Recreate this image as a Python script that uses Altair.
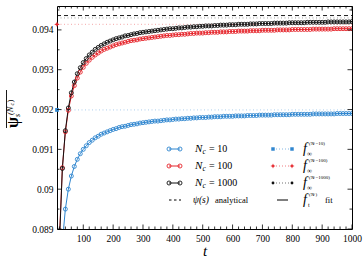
import altair as alt
import pandas as pd

# ---------------- data ----------------
t = list(range(10, 1010, 10))

psi_10 = [0.08200, 0.08700, 0.08867, 0.08950, 0.09000, 0.09033, 0.09057, 0.09075, 0.09089, 0.09100,
          0.09109, 0.09117, 0.09123, 0.09129, 0.09133, 0.09138, 0.09141, 0.09144, 0.09147, 0.09150,
          0.09152, 0.09155, 0.09157, 0.09158, 0.09160, 0.09162, 0.09163, 0.09164, 0.09166, 0.09167,
          0.09168, 0.09169, 0.09170, 0.09171, 0.09171, 0.09172, 0.09173, 0.09174, 0.09174, 0.09175,
          0.09176, 0.09176, 0.09177, 0.09177, 0.09178, 0.09178, 0.09179, 0.09179, 0.09180, 0.09180,
          0.09180, 0.09181, 0.09181, 0.09182, 0.09182, 0.09182, 0.09183, 0.09183, 0.09183, 0.09183,
          0.09184, 0.09184, 0.09184, 0.09184, 0.09185, 0.09185, 0.09185, 0.09185, 0.09186, 0.09186,
          0.09186, 0.09186, 0.09186, 0.09187, 0.09187, 0.09187, 0.09187, 0.09187, 0.09187, 0.09188,
          0.09188, 0.09188, 0.09188, 0.09188, 0.09188, 0.09188, 0.09189, 0.09189, 0.09189, 0.09189,
          0.09189, 0.09189, 0.09189, 0.09189, 0.09190, 0.09190, 0.09190, 0.09190, 0.09190, 0.09190]

psi_100 = [0.08334, 0.08874, 0.09054, 0.09144, 0.09198, 0.09234, 0.09260, 0.09279, 0.09294, 0.09306,
           0.09316, 0.09324, 0.09331, 0.09337, 0.09342, 0.09347, 0.09351, 0.09354, 0.09357, 0.09360,
           0.09363, 0.09365, 0.09367, 0.09369, 0.09371, 0.09373, 0.09374, 0.09375, 0.09377, 0.09378,
           0.09379, 0.09380, 0.09381, 0.09382, 0.09383, 0.09384, 0.09385, 0.09386, 0.09386, 0.09387,
           0.09388, 0.09388, 0.09389, 0.09389, 0.09390, 0.09391, 0.09391, 0.09392, 0.09392, 0.09392,
           0.09393, 0.09393, 0.09394, 0.09394, 0.09394, 0.09395, 0.09395, 0.09395, 0.09396, 0.09396,
           0.09396, 0.09397, 0.09397, 0.09397, 0.09397, 0.09398, 0.09398, 0.09398, 0.09398, 0.09399,
           0.09399, 0.09399, 0.09399, 0.09399, 0.09400, 0.09400, 0.09400, 0.09400, 0.09400, 0.09401,
           0.09401, 0.09401, 0.09401, 0.09401, 0.09401, 0.09401, 0.09402, 0.09402, 0.09402, 0.09402,
           0.09402, 0.09402, 0.09402, 0.09403, 0.09403, 0.09403, 0.09403, 0.09403, 0.09403, 0.09403]

psi_1000 = [0.08292, 0.08862, 0.09052, 0.09147, 0.09204, 0.09242, 0.09269, 0.09290, 0.09305, 0.09318,
            0.09328, 0.09337, 0.09344, 0.09351, 0.09356, 0.09361, 0.09365, 0.09369, 0.09372, 0.09375,
            0.09378, 0.09380, 0.09382, 0.09385, 0.09386, 0.09388, 0.09390, 0.09391, 0.09393, 0.09394,
            0.09395, 0.09396, 0.09397, 0.09398, 0.09399, 0.09400, 0.09401, 0.09402, 0.09403, 0.09403,
            0.09404, 0.09405, 0.09405, 0.09406, 0.09407, 0.09407, 0.09408, 0.09408, 0.09409, 0.09409,
            0.09410, 0.09410, 0.09410, 0.09411, 0.09411, 0.09412, 0.09412, 0.09412, 0.09413, 0.09413,
            0.09413, 0.09414, 0.09414, 0.09414, 0.09414, 0.09415, 0.09415, 0.09415, 0.09416, 0.09416,
            0.09416, 0.09416, 0.09416, 0.09417, 0.09417, 0.09417, 0.09417, 0.09417, 0.09418, 0.09418,
            0.09418, 0.09418, 0.09418, 0.09418, 0.09419, 0.09419, 0.09419, 0.09419, 0.09419, 0.09419,
            0.09419, 0.09420, 0.09420, 0.09420, 0.09420, 0.09420, 0.09420, 0.09420, 0.09420, 0.09421]

series_names = ["Nc=10", "Nc=100", "Nc=1000"]
f_inf = [0.09199, 0.09414, 0.09430]
psi_analytical = [0.09436]

x_ticks_major = [100, 200, 300, 400, 500, 600, 700, 800, 900, 1000]
x_ticks_minor = [v for v in range(20, 1001, 20) if v % 100 != 0]
y_ticks_major = [0.089, 0.090, 0.091, 0.092, 0.093, 0.094]
y_ticks_minor = [0.0895, 0.0905, 0.0915, 0.0925, 0.0935, 0.0945]

colors = ["#2f86cf", "#e5252b", "#111111"]

# ---------------- tables ----------------
rows = []
for name, vals in zip(series_names, [psi_10, psi_100, psi_1000]):
    for tt, v in zip(t, vals):
        rows.append({"t": tt, "psi": v, "series": name})
df = pd.DataFrame(rows)
finf_df = pd.DataFrame({"series": series_names, "v": f_inf})
ana_df = pd.DataFrame({"v": psi_analytical})
one = pd.DataFrame({"a": [0]})

W, H = 295, 223
SERIF = "Liberation Serif"
xs = alt.Scale(domain=[12, 1000], nice=False, zero=False)
ys = alt.Scale(domain=[0.089, 0.0946], nice=False, zero=False)
cs = alt.Scale(domain=series_names, range=colors)
ax_x = alt.Axis(values=x_ticks_major, format="d", title="t", titleFontStyle="italic", titleFontWeight="normal",
                titleFontSize=15, titleFont=SERIF, titlePadding=1, labelPadding=4, labelOverlap=False,
                labelFlush=False)
ax_y = alt.Axis(values=y_ticks_major, format="~g", title=None, labelPadding=4, labelOverlap=False,
                labelFlush=False)

def X(f):
    return alt.X(f, scale=xs, axis=ax_x)

def Y(f):
    return alt.Y(f, scale=ys, axis=ax_y)

base = alt.Chart(df)

lines = base.mark_line(strokeWidth=1, clip=True).encode(
    x=X("t:Q"), y=Y("psi:Q"), color=alt.Color("series:N", scale=cs, legend=None),
)
points = base.mark_point(shape="circle", filled=False, size=16, strokeWidth=0.9, opacity=1, clip=True).encode(
    x=X("t:Q"), y=Y("psi:Q"), color=alt.Color("series:N", scale=cs, legend=None),
)

finf_lines = alt.Chart(finf_df).mark_rule(strokeDash=[1, 2.5], strokeWidth=0.9, opacity=0.45).encode(
    y=Y("v:Q"), x=alt.value(0), x2=alt.value(W),
    color=alt.Color("series:N", scale=cs, legend=None),
)
ana_line = alt.Chart(ana_df).mark_rule(strokeDash=[4, 3], strokeWidth=0.9, color="black").encode(
    y=Y("v:Q"), x=alt.value(0), x2=alt.value(W),
)

star = "M0,-1L0.3,-0.3L1,0L0.3,0.3L0,1L-0.3,0.3L-1,0L-0.3,-0.3Z"
finf_blue_mark = alt.Chart(finf_df[finf_df.series == "Nc=10"]).mark_point(
    shape="square", filled=True, size=14, color=colors[0], opacity=1).encode(
    y=Y("v:Q"), x=alt.value(0))
finf_red_mark = alt.Chart(finf_df[finf_df.series == "Nc=100"]).mark_point(
    shape=star, filled=True, size=30, color=colors[1], opacity=1).encode(
    y=Y("v:Q"), x=alt.value(0))

# inward ticks on all four sides
def xtick_layer(vals, L):
    d = pd.DataFrame({"v": vals})
    b = alt.Chart(d).mark_rule(color="black", strokeWidth=0.8).encode(x=X("v:Q"))
    return [b.encode(y=alt.value(H), y2=alt.value(H - L)), b.encode(y=alt.value(0), y2=alt.value(L))]

def ytick_layer(vals, L):
    d = pd.DataFrame({"v": vals})
    b = alt.Chart(d).mark_rule(color="black", strokeWidth=0.8).encode(y=Y("v:Q"))
    return [b.encode(x=alt.value(0), x2=alt.value(L)), b.encode(x=alt.value(W), x2=alt.value(W - L))]

ticks = xtick_layer(x_ticks_major, 4.5) + xtick_layer(x_ticks_minor, 2.5) + \
        ytick_layer(y_ticks_major, 4.5) + ytick_layer(y_ticks_minor, 2.5)

# ---------------- legend & title text ----------------
def T(s, x, y, size=10, style="normal", angle=0, color="black", weight="normal"):
    return alt.Chart(one).mark_text(text=s, font=SERIF, fontSize=size, fontStyle=style, fontWeight=weight,
                                    align="left", baseline="middle", angle=angle, color=color).encode(
        x=alt.value(x), y=alt.value(y))

def R(x1, x2, y, color, dash=None, width=1.0, opacity=1.0):
    kw = dict(color=color, strokeWidth=width, opacity=opacity)
    if dash:
        kw["strokeDash"] = dash
    return alt.Chart(one).mark_rule(**kw).encode(x=alt.value(x1), x2=alt.value(x2), y=alt.value(y))

def P(x, y, color, shape="circle", filled=False, size=16):
    return alt.Chart(one).mark_point(shape=shape, filled=filled, size=size, color=color, opacity=1,
                                     strokeWidth=0.9).encode(x=alt.value(x), y=alt.value(y))

legend = []
ry = [143, 160, 177, 194]
nums = ["10", "100", "1000"]
fshape = [("square", 12), (star, 26), ("circle", 8)]
for i in range(3):
    c = colors[i]
    legend += [R(112, 123, ry[i], c), P(112, ry[i], c), P(123, ry[i], c)]
    legend += [T("N", 138, ry[i], 11, "italic"), T("c", 145.5, ry[i] + 3, 7.5, "italic"),
               T("= " + nums[i], 152, ry[i], 10)]
    legend += [R(216, 235, ry[i], c, dash=[1, 2], opacity=0.6),
               P(216, ry[i], c, fshape[i][0], True, fshape[i][1]),
               P(235, ry[i], c, fshape[i][0], True, fshape[i][1])]
    legend += [T("f", 246, ry[i], 14, "italic"), T("∞", 250, ry[i] + 5, 7),
               T("(N", 252, ry[i] - 6, 5, "italic"), T("c", 256, ry[i] - 5, 3.8, "italic"),
               T("=" + nums[i] + ")", 258.5, ry[i] - 6, 5)]
legend += [R(112, 124, ry[3], "black", dash=[2.5, 2.5]), T("ψ(s)", 136, ry[3], 9.5, "italic"),
           T("analytical", 158, ry[3], 8.5)]
legend += [R(220, 231, ry[3], "black"), T("f", 246, ry[3], 14, "italic"), T("t", 251, ry[3] + 4.5, 6),
           T("(N", 252, ry[3] - 6, 5, "italic"), T("c", 256, ry[3] - 5, 3.8, "italic"),
           T(")", 258.5, ry[3] - 6, 5), T("fit", 268, ry[3], 8.5)]

# y axis title: overline psi, subscript s, superscript (Nc)
ytitle = [
    T("ψ", -44, 122, 16, angle=270, weight="bold"),
    T("s", -39.5, 111, 8, "italic", angle=270),
    T("(N", -47, 109, 8.5, "italic", angle=270),
    T("c", -45, 99.5, 6, "italic", angle=270),
    T(")", -47, 96.5, 8.5, angle=270),
    alt.Chart(one).mark_rule(color="black", strokeWidth=0.9).encode(
        x=alt.value(-50.5), y=alt.value(84), y2=alt.value(122)),
]

chart = alt.layer(
    lines, finf_lines, ana_line, points, finf_blue_mark, finf_red_mark, *ticks, *legend, *ytitle
).properties(
    width=W, height=H,
    padding={"left": 57, "top": 6, "right": 11, "bottom": 30},
    autosize=alt.AutoSizeParams(type="none"),
    background="white",
).configure_view(
    stroke="black", strokeWidth=1
).configure_axis(
    grid=False, ticks=False, domain=False, labelFont=SERIF, labelFontSize=9.5, labelColor="black",
    titleColor="black", labelOverlap=False, labelFlush=False
)

chart.save("out.html", embed_options={"renderer": "svg", "actions": False})
